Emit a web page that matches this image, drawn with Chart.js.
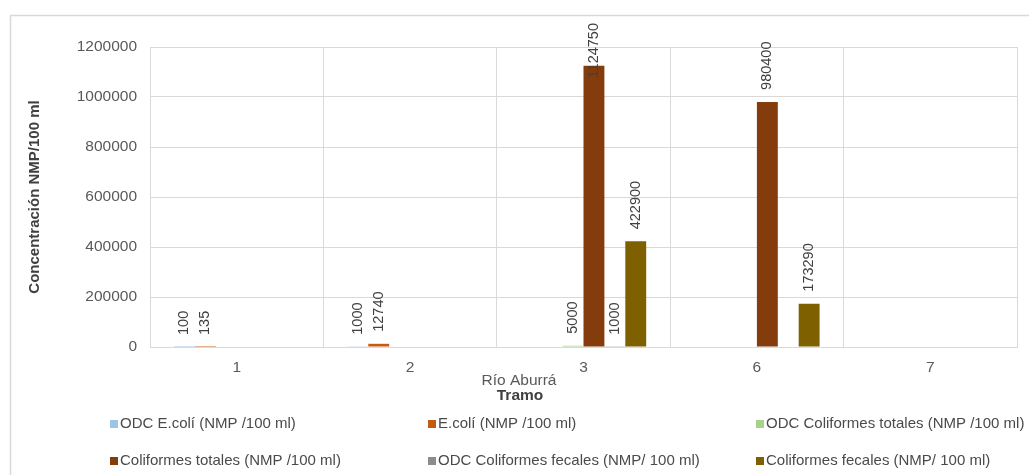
<!DOCTYPE html>
<html><head><meta charset="utf-8">
<script src="https://cdn.jsdelivr.net/npm/chart.js@4/dist/chart.umd.min.js"></script>
<style>html,body{margin:0;padding:0;background:#fff}#wrap{width:1029px;height:475px;position:relative}</style>
</head><body><div id="wrap"><canvas id="c" width="1029" height="475"></canvas></div>
<script>
const categories = ['1', '2', '3', '6', '7'];
const seriesNames = [
  'ODC E.colí (NMP /100 ml)',
  'E.colí (NMP /100 ml)',
  'ODC Coliformes totales (NMP /100 ml)',
  'Coliformes totales (NMP /100 ml)',
  'ODC Coliformes fecales (NMP/ 100 ml)',
  'Coliformes fecales (NMP/ 100 ml)'
];
const odcEcoli   = [100, 1000, null, null, null];
const ecoli      = [135, 12740, null, null, null];
const odcTotales = [null, null, 5000, null, null];
const totales    = [null, null, 1124750, 980400, null];
const odcFecales = [null, null, 1000, null, null];
const fecales    = [null, null, 422900, 173290, null];
const yTicks = [0, 200000, 400000, 600000, 800000, 1000000, 1200000];
const colors = ['#9DC3E6', '#C55A11', '#A9D18E', '#843C0C', '#8C8C8C', '#7F6000'];
const yTitle = 'Concentración NMP/100 ml';
const xTitle1 = 'Río Aburrá';
const xTitle2 = 'Tramo';

const FONT = '"Liberation Sans", Arial, sans-serif';
const FS = 15.5;
const FSLEG = 15;
const FSL = 14.5;
const TXT = '#595959';
const GRID = '#d9d9d9';

const seriesData = [odcEcoli, ecoli, odcTotales, totales, odcFecales, fecales];

const framePlugin = {
  id: 'frame',
  beforeDraw(chart) {
    const c = chart.ctx;
    c.save();
    c.fillStyle = '#fff';
    c.fillRect(0, 0, chart.width, chart.height);
    c.strokeStyle = GRID;
    c.lineWidth = 1.5;
    c.strokeRect(10.5, 15.5, 1200, 1000);
    c.restore();
  }
};

const labelPlugin = {
  id: 'vlabels',
  afterDatasetsDraw(chart) {
    const c = chart.ctx;
    c.save();
    c.font = FSL + 'px ' + FONT;
    c.fillStyle = '#404040';
    c.textAlign = 'left';
    c.textBaseline = 'middle';
    chart.data.datasets.forEach((ds, di) => {
      const meta = chart.getDatasetMeta(di);
      ds.data.forEach((v, i) => {
        if (v === null || v === undefined) return;
        const el = meta.data[i];
        const txt = String(v);
        const w = c.measureText(txt).width;
        let start = el.y - 12;
        if (start - w < 23) start = 23 + w;
        c.save();
        c.translate(el.x, start);
        c.rotate(-Math.PI / 2);
        c.fillText(txt, 0, 0);
        c.restore();
      });
    });
    c.restore();
  }
};

const extrasPlugin = {
  id: 'extras',
  afterDraw(chart) {
    const c = chart.ctx;
    c.save();
    c.fillStyle = TXT;
    c.textAlign = 'center';
    c.textBaseline = 'middle';
    c.font = FS + 'px ' + FONT;
    c.fillText(xTitle1, 519, 381);
    c.font = 'bold ' + FS + 'px ' + FONT;
    c.fillStyle = '#404040';
    c.fillText(xTitle2, 520, 396);
    // legend
    const colX = [110, 428, 756];
    const rowY = [424, 461];
    c.font = FSLEG + 'px ' + FONT;
    c.textAlign = 'left';
    chart.data.datasets.forEach((ds, i) => {
      const x = colX[i % 3], y = rowY[Math.floor(i / 3)];
      c.fillStyle = ds.backgroundColor;
      c.fillRect(x, y - 4, 8, 8);
      c.fillStyle = '#4a4a4a';
      c.fillText(ds.label, x + 10, y);
    });
    c.restore();
  }
};

new Chart(document.getElementById('c'), {
  type: 'bar',
  data: {
    labels: categories,
    datasets: seriesNames.map((n, i) => ({
      label: n,
      data: seriesData[i],
      backgroundColor: colors[i],
      borderWidth: 0,
      categoryPercentage: 0.723,
      barPercentage: 1.0
    }))
  },
  options: {
    responsive: false,
    animation: false,
    devicePixelRatio: 1,
    layout: { padding: { top: 47, right: 12, left: 0, bottom: 0 } },
    plugins: { legend: { display: false }, tooltip: { enabled: false } },
    scales: {
      x: {
        grid: { color: GRID, drawTicks: false, offset: true },
        border: { color: GRID },
        ticks: { color: TXT, font: { family: FONT, size: FS }, padding: 11 },
        afterFit(s) { s.height = 128; }
      },
      y: {
        min: 0, max: 1200000,
        afterBuildTicks(s) { s.ticks = yTicks.map(v => ({ value: v })); },
        grid: { color: GRID, drawTicks: false },
        border: { color: GRID },
        ticks: { color: TXT, font: { family: FONT, size: FS }, padding: 13, callback: v => String(v) },
        title: { display: true, text: yTitle, color: '#404040', font: { family: FONT, size: 15, weight: 'bold' }, padding: { top: 26, bottom: 0 } },
        afterFit(s) { s.width = 150; }
      }
    }
  },
  plugins: [framePlugin, labelPlugin, extrasPlugin]
});
</script></body></html>
